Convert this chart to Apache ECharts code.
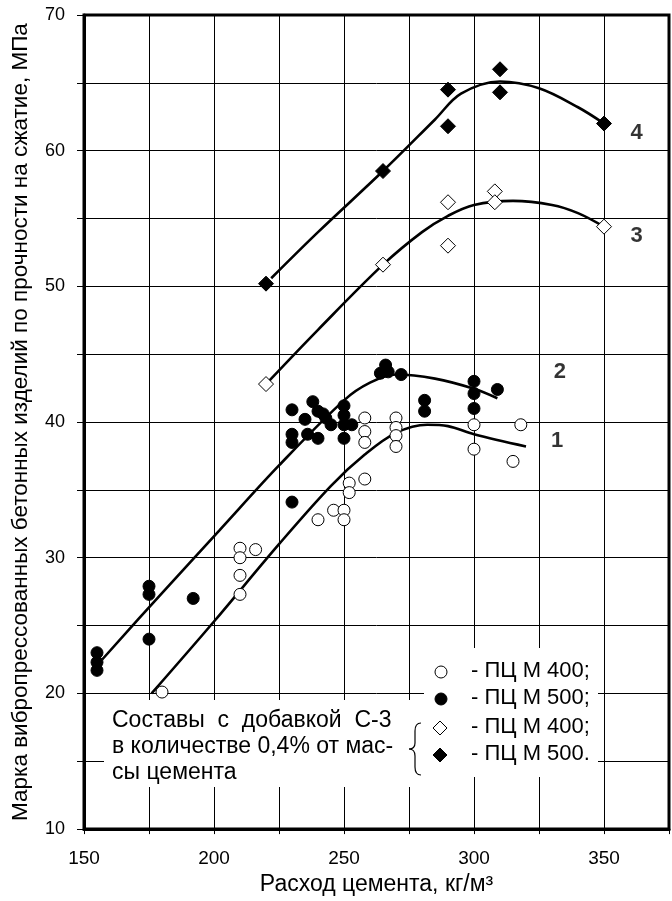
<!DOCTYPE html>
<html>
<head>
<meta charset="utf-8">
<script src="https://cdn.jsdelivr.net/npm/echarts@6/dist/echarts.min.js"></script>
<style>
  html, body { margin: 0; padding: 0; background: #fff; }
  #chart { width: 672px; height: 901px; }
</style>
</head>
<body>
<div id="chart"></div>
<script>
// точки: ПЦ М400, ПЦ М500 (без добавки)
var m400 = [[180,20.1],[210,30.7],[210,30.0],[216,30.6],[210,28.7],[210,27.3],[240,32.8],[246,33.5],
  [250,33.5],[250,32.8],[252,35.5],[252,34.8],[258,35.8],[258,40.3],[258,39.3],[258,38.5],[270,40.3],
  [270,39.6],[270,39.0],[270,38.2],[300,39.8],[300,38.0],[318,39.8],[315,37.1]];
var m500 = [[155,23],[155,22.3],[155,21.7],[175,27.9],[175,27.3],[175,24],[192,27],[230,34.1],[230,40.9],
  [230,39.1],[230,38.5],[235,40.2],[236,39.1],[238,41.5],[240,40.8],[240,38.8],[242,40.6],[243,40.3],
  [245,39.8],[250,41.2],[250,40.5],[250,39.8],[250,38.8],[253,39.8],[264,43.6],[266,44.2],[267,43.7],
  [272,43.5],[281,41.6],[281,40.8],[300,43],[300,42.1],[300,41],[309,42.4]];
// с добавкой С-3
var s3m400 = [[220,42.8],[265,51.6],[290,56.2],[290,53],[308,57],[308,56.2],[350,54.4]];
var s3m500 = [[220,50.2],[265,58.5],[290,64.5],[290,61.8],[310,66],[310,64.3],[350,62]];

// кривые 1-4
var curve1 = [[176,20],[200,25.3],[225,31],[245,35.3],[258,37.6],[270,39.2],[282,39.8],[290,39.7],[300,39.1],[320,38.2]];
var curve2 = [[157,22.5],[180,27.4],[202,32],[225,36.8],[250,41.6],[260,42.9],[270,43.5],[285,43.2],[300,42.45],[309,41.75]];
var curve3 = [[221,43],[240,46.8],[265,51.6],[280,54],[290,55.2],[300,56],[315,56.3],[330,56],[340,55.4],[350,54.4]];
var curve4 = [[222,50.6],[240,54],[265,58.5],[285,62.3],[295,64.2],[310,65.1],[325,64.6],[340,63.2],[350,62]];
var curveLabels = [[332,38.6,'1'],[333,43.7,'2'],[362.5,53.7,'3'],[362.5,61.3,'4']];

var xTicks = [150, 200, 250, 300, 350];
var yTicks = [10, 20, 30, 40, 50, 60, 70];

var FONT = 'Liberation Sans, Arial, sans-serif';
var chart = echarts.init(document.getElementById('chart'));

function line(data) {
  return {
    type: 'line', data: data, smooth: 0.35, showSymbol: false, symbol: 'none',
    lineStyle: { color: '#000', width: 2.6 }, z: 3, silent: true
  };
}
function dots(data, symbol, filled, size) {
  return {
    type: 'scatter', data: data, symbol: symbol, symbolSize: size, z: 5,
    itemStyle: { color: filled ? '#000' : '#fff', borderColor: '#000', borderWidth: 1, opacity: 1 }
  };
}

var legendRows = [
  { sym: 'circle', fill: '#fff', text: '- ПЦ М 400;', y: 672 },
  { sym: 'circle', fill: '#000', text: '- ПЦ М 500;', y: 699 },
  { sym: 'diamond', fill: '#fff', text: '- ПЦ М 400;', y: 728 },
  { sym: 'diamond', fill: '#000', text: '- ПЦ М 500.', y: 755 }
];
var brace = { stroke: '#000', lineWidth: 1.2, fill: null };
var graphics = [
  { type: 'rect', z: 1, shape: { x: 104, y: 700, width: 320, height: 87 }, style: { fill: '#fff' } },
  { type: 'rect', z: 1, shape: { x: 424, y: 648, width: 174, height: 129 }, style: { fill: '#fff' } },
  { type: 'text', z: 10, left: 112, top: 708,
    style: { text: 'Составы  с  добавкой  С-3\nв количестве 0,4% от мас-\nсы цемента',
      font: '23px ' + FONT, fill: '#000', lineHeight: 26 } },
  { type: 'bezierCurve', z: 10, shape: { x1: 421, y1: 723, cpx1: 415, cpy1: 723, x2: 415, y2: 731 }, style: brace },
  { type: 'line', z: 10, shape: { x1: 415, y1: 731, x2: 415, y2: 743 }, style: brace },
  { type: 'bezierCurve', z: 10, shape: { x1: 415, y1: 743, cpx1: 415, cpy1: 749, x2: 409, y2: 749 }, style: brace },
  { type: 'bezierCurve', z: 10, shape: { x1: 409, y1: 749, cpx1: 415, cpy1: 749, x2: 415, y2: 756 }, style: brace },
  { type: 'line', z: 10, shape: { x1: 415, y1: 756, x2: 415, y2: 767 }, style: brace },
  { type: 'bezierCurve', z: 10, shape: { x1: 415, y1: 767, cpx1: 415, cpy1: 775, x2: 421, y2: 775 }, style: brace }
];
legendRows.forEach(function (r) {
  if (r.sym === 'circle') {
    graphics.push({ type: 'circle', z: 10, shape: { cx: 441, cy: r.y, r: 6 },
      style: { fill: r.fill, stroke: '#000', lineWidth: 1 } });
  } else {
    graphics.push({ type: 'polygon', z: 10,
      shape: { points: [[440, r.y - 7], [447, r.y], [440, r.y + 7], [433, r.y]] },
      style: { fill: r.fill, stroke: '#000', lineWidth: 1 } });
  }
  graphics.push({ type: 'text', z: 10, left: 471, top: r.y - 12,
    style: { text: r.text, font: '22px ' + FONT, fill: '#000' } });
});

chart.setOption({
  animation: false,
  backgroundColor: '#fff',
  grid: { left: 84, right: -5, top: 15, bottom: 69, show: true, borderColor: '#000', borderWidth: 3 },
  xAxis: {
    type: 'value', min: 150, max: 375, interval: 25,
    name: 'Расход цемента, кг/м³', nameLocation: 'middle', nameGap: 38,
    nameTextStyle: { color: '#000', fontSize: 23, fontFamily: FONT },
    axisLine: { lineStyle: { color: '#000', width: 3 } },
    axisTick: { show: true, length: 5, lineStyle: { color: '#000' },
      interval: function (i, v) { return xTicks.indexOf(v) >= 0; } },
    axisLabel: { color: '#000', fontSize: 19, fontFamily: FONT, margin: 20,
      formatter: function (v) { return xTicks.indexOf(v) >= 0 ? String(v) : ''; } },
    splitLine: { show: true, lineStyle: { color: '#000', width: 1 } }
  },
  yAxis: {
    type: 'value', min: 10, max: 70, interval: 5,
    name: 'Марка вибропрессованных бетонных изделий по прочности на сжатие, МПа',
    nameLocation: 'middle', nameGap: 52,
    nameTextStyle: { color: '#000', fontSize: 22.5, fontFamily: FONT },
    axisLine: { lineStyle: { color: '#000', width: 3 } },
    axisTick: { show: true, length: 7, lineStyle: { color: '#000' },
      interval: function (i, v) { return yTicks.indexOf(v) >= 0; } },
    axisLabel: { color: '#000', fontSize: 18, fontFamily: FONT, margin: 19,
      formatter: function (v) { return yTicks.indexOf(v) >= 0 ? String(v) : ''; } },
    splitLine: { show: true, lineStyle: { color: '#000', width: 1 } }
  },
  graphic: graphics,
  series: [
    line(curve1), line(curve2), line(curve3), line(curve4),
    dots(m400, 'circle', false, 12),
    dots(m500, 'circle', true, 12),
    dots(s3m400, 'diamond', false, 15),
    dots(s3m500, 'diamond', true, 15),
    {
      type: 'scatter', symbolSize: 0, z: 6, silent: true,
      data: curveLabels.map(function (d) { return { value: [d[0], d[1]], name: d[2] }; }),
      label: { show: true, position: 'inside', formatter: '{b}', color: '#000',
        fontSize: 22, fontWeight: 'bold', fontFamily: FONT }
    }
  ]
});
</script>
</body>
</html>
